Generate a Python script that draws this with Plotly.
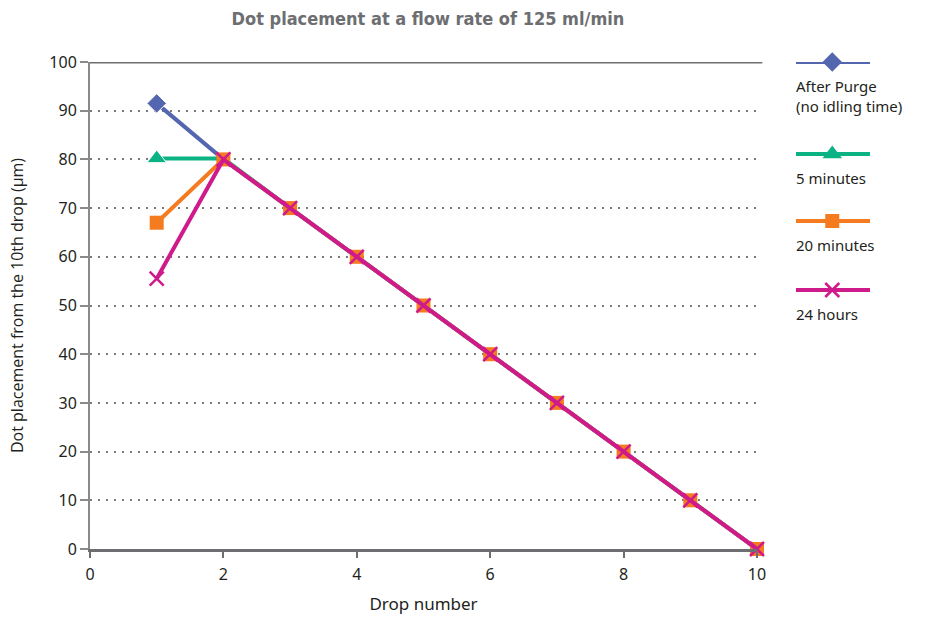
import plotly.graph_objects as go

drops = [1, 2, 3, 4, 5, 6, 7, 8, 9, 10]
after_purge = [91.5, 80, 70, 60, 50, 40, 30, 20, 10, 0]
five_min = [80.2, 80.2, 70, 60, 50, 40, 30, 20, 10, 0]
twenty_min = [67, 80, 70, 60, 50, 40, 30, 20, 10, 0]
twenty_four_h = [55.5, 80, 70, 60, 50, 40, 30, 20, 10, 0]

series_names = ["After Purge<br>(no idling time)", "5 minutes", "20 minutes", "24 hours"]
series_vals = [after_purge, five_min, twenty_min, twenty_four_h]
colors = ["#5566B0", "#0BB384", "#F47B20", "#CF1A8C"]
symbols = ["diamond", "triangle-up", "square", "x-thin"]
sizes = [15, 17, 14, 14]
# markers of the first two series are hidden under the others except at drop 1
first_only = [True, True, False, False]

W, H = 936, 617
ml, mr, mt, mb = 90, 10, 62, 68
pw = W - ml - mr
ph = H - mt - mb
xdom_end = (757 - ml) / pw


def marker_for(s, c, sz):
    mk = dict(symbol=s, size=sz, color=c, opacity=1)
    if s == "x-thin":
        mk["line"] = dict(color=c, width=2.5)
    return mk


fig = go.Figure()
for name, vals, c, s, sz, fo in zip(series_names, series_vals, colors, symbols, sizes, first_only):
    mk = marker_for(s, c, sz)
    if fo:
        mk["size"] = [sz] + [0] * (len(vals) - 1)
    fig.add_trace(go.Scatter(x=drops, y=vals, mode="lines+markers", name=name,
                             line=dict(color=c, width=4), marker=mk,
                             showlegend=False, cliponaxis=False))

# custom legend on a hidden axis
leg_y_px = [62, 154, 221, 290]
for i, (name, c, s, sz) in enumerate(zip(series_names, colors, symbols, sizes)):
    yv = (H - mb - leg_y_px[i]) / ph
    fig.add_trace(go.Scatter(x=[0, 1], y=[yv, yv], mode="lines", line=dict(color=c, width=4),
                             xaxis="x2", yaxis="y2", showlegend=False, cliponaxis=False,
                             hoverinfo="skip"))
    fig.add_trace(go.Scatter(x=[0.49], y=[yv], mode="markers", marker=marker_for(s, c, sz),
                             xaxis="x2", yaxis="y2", showlegend=False, cliponaxis=False,
                             hoverinfo="skip"))
    fig.add_annotation(x=0, y=yv, xref="x2", yref="y2", text=name, showarrow=False,
                       xanchor="left", yanchor="top", yshift=-12, xshift=-2, align="left",
                       font=dict(family="Noto Sans", size=15, color="#231F20"))

tickfont = dict(family="Noto Sans", size=16, color="#231F20")
fig.update_layout(
    width=W, height=H,
    margin=dict(l=ml, r=mr, t=mt, b=mb, autoexpand=False),
    plot_bgcolor="white", paper_bgcolor="white",
    title=dict(text="<b>Dot placement at a flow rate of 125 ml/min</b>", x=428 / W, xanchor="center",
               y=1 - 19 / H, yanchor="middle", automargin=False,
               font=dict(family="DejaVu Sans Condensed", size=18, color="#6D6E71")),
    xaxis=dict(domain=[0, xdom_end], range=[0, 10], tickvals=[0, 2, 4, 6, 8, 10],
               automargin=False,
               showgrid=False, zeroline=False, showline=True, linecolor="#6D6E71", linewidth=3,
               ticks="outside", ticklen=6, tickcolor="#6D6E71", tickwidth=2, mirror=False,
               tickfont=tickfont, ticklabelstandoff=3,
               title=dict(text="Drop number", standoff=14,
                          font=dict(family="Noto Sans", size=17, color="#231F20"))),
    yaxis=dict(domain=[0, 1], range=[0, 100], tickvals=list(range(0, 101, 10)),
               automargin=False,
               showgrid=True, gridcolor="#7A7A7A", gridwidth=2, griddash="2px,6px",
               zeroline=False, showline=True, linecolor="#8A8A8A", linewidth=2,
               ticks="outside", ticklen=8, tickcolor="#8A8A8A", tickwidth=2,
               tickfont=tickfont,
               title=dict(text="Dot placement from the 10th drop (µm)", standoff=22,
                          font=dict(family="Open Sans", size=16, color="#231F20"))),
    xaxis2=dict(domain=[(796 - ml) / pw, (870 - ml) / pw], range=[0, 1], visible=False,
                anchor="y2", fixedrange=True),
    yaxis2=dict(domain=[0, 1], range=[0, 1], visible=False, anchor="x2", fixedrange=True),
)
# top border line of plot area
fig.add_shape(type="line", xref="x domain", yref="y", x0=0, x1=1.008, y0=100, y1=100,
              line=dict(color="#6D6E71", width=3))

fig.write_html("out.html", config={"displayModeBar": False},
               post_script="document.body.style.margin='0';")
